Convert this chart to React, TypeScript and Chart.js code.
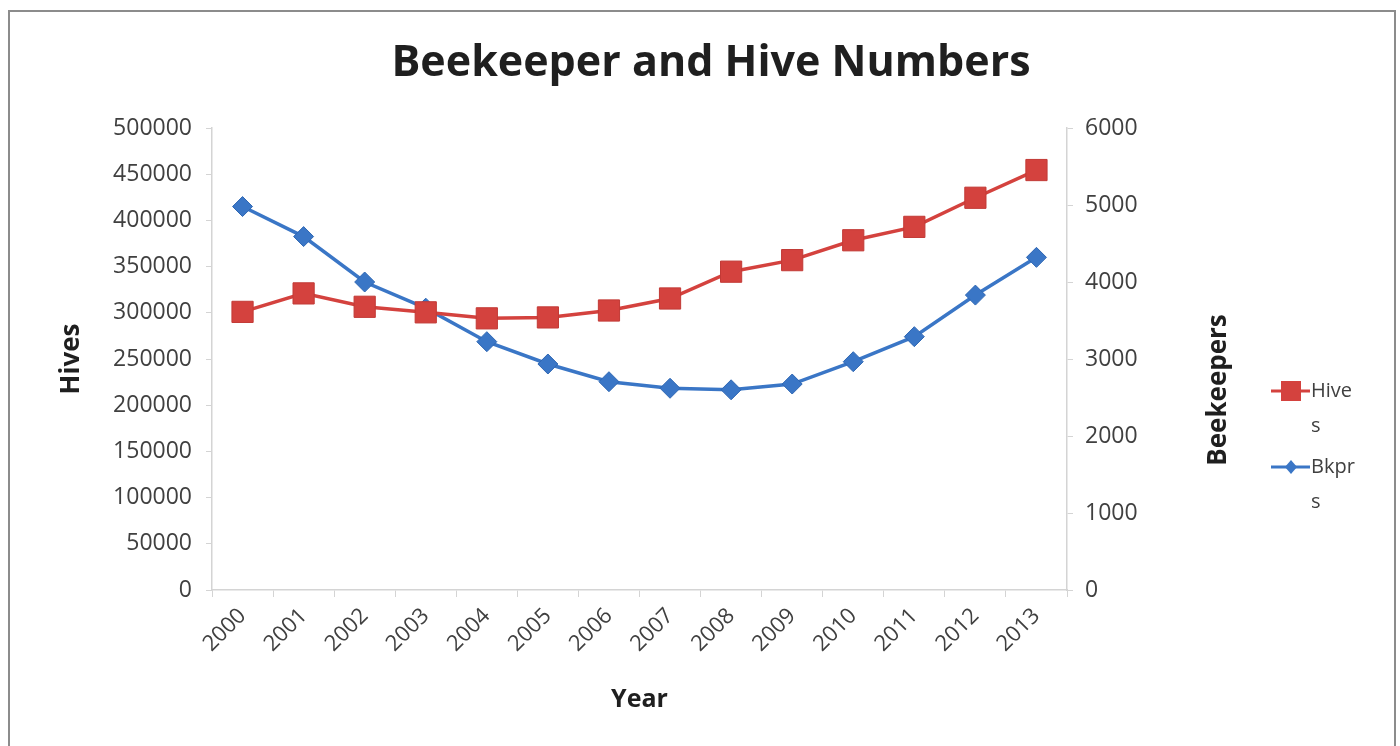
import React, { useEffect, useRef } from 'react';
import { Chart, registerables } from 'chart.js';

Chart.register(...registerables);

const years = ['2000', '2001', '2002', '2003', '2004', '2005', '2006', '2007', '2008', '2009', '2010', '2011', '2012', '2013'];
const hives = [301000, 321000, 306500, 300500, 294000, 295000, 302500, 315500, 344500, 357000, 378500, 393000, 424500, 454500];
const beekeepers = [4980, 4590, 4000, 3660, 3225, 2935, 2705, 2620, 2600, 2675, 2965, 3290, 3830, 4320];
const legendLabels = [['Hive', 's'], ['Bkpr', 's']];
const chartTitle = 'Beekeeper and Hive Numbers';

const FONT = '"Open Sans", sans-serif';
const TEXT = '#404040';
const DARK = '#1f1f1f';
const AXIS = '#d4d4d4';
const RED = '#d4423e';
const BLUE = '#3a76c6';

const PAD_LEFT = 56;
const PLOT_LEFT = 212;
const PLOT_RIGHT = 1067;
const RIGHT_BOX_END = 1232;
const PLOT_TOP = 128;
const PLOT_BOTTOM = 590;
const PAD_BOTTOM = 31;

const extrasPlugin = {
  id: 'extras',
  afterDraw(chart: any) {
    const ctx = chart.ctx;
    // title
    ctx.save();
    ctx.font = `bold 43px ${FONT}`;
    ctx.fillStyle = DARK;
    ctx.textAlign = 'center';
    ctx.textBaseline = 'middle';
    ctx.fillText(chartTitle, 711, 64);
    ctx.restore();

    // Beekeepers axis title
    ctx.save();
    ctx.translate(1219, 390);
    ctx.rotate(-Math.PI / 2);
    ctx.font = `bold 26px ${FONT}`;
    ctx.fillStyle = DARK;
    ctx.textAlign = 'center';
    ctx.textBaseline = 'middle';
    ctx.fillText('Beekeepers', 0, 0);
    ctx.restore();

    // legend
    const rows = [391, 467];
    chart.data.datasets.forEach((ds: any, i: number) => {
      const y = rows[i];
      ctx.save();
      ctx.strokeStyle = ds.borderColor;
      ctx.lineWidth = 3;
      ctx.beginPath();
      ctx.moveTo(1271, y);
      ctx.lineTo(1310, y);
      ctx.stroke();
      ctx.fillStyle = ds.pointBackgroundColor;
      ctx.beginPath();
      if (ds.pointStyle === 'rect') {
        ctx.rect(1281, y - 10, 20, 20);
      } else {
        ctx.moveTo(1291, y - 7);
        ctx.lineTo(1297, y);
        ctx.lineTo(1291, y + 7);
        ctx.lineTo(1285, y);
        ctx.closePath();
      }
      ctx.fill();
      ctx.font = `20px ${FONT}`;
      ctx.fillStyle = TEXT;
      ctx.textAlign = 'left';
      ctx.textBaseline = 'middle';
      ctx.fillText(legendLabels[i][0], 1311, y);
      ctx.fillText(legendLabels[i][1], 1311, y + 35);
      ctx.restore();
    });
  },
};

export default function App() {
  const ref = useRef<HTMLCanvasElement>(null);
  useEffect(() => {
    document.body.style.margin = '0';
    const chart = new Chart(ref.current!, {
      type: 'line',
      data: {
        labels: years,
        datasets: [
          {
            label: 'Hives',
            data: hives,
            yAxisID: 'y',
            borderColor: RED,
            backgroundColor: RED,
            pointBackgroundColor: RED,
            pointBorderColor: '#c23a36',
            pointBorderWidth: 1,
            pointStyle: 'rect',
            pointRadius: 15,
            borderWidth: 3.5,
            tension: 0,
          },
          {
            label: 'Bkprs',
            data: beekeepers,
            yAxisID: 'y1',
            borderColor: BLUE,
            backgroundColor: BLUE,
            pointBackgroundColor: BLUE,
            pointBorderColor: '#2f67b3',
            pointBorderWidth: 1,
            pointStyle: 'rectRot',
            pointRadius: 10,
            borderWidth: 3.5,
            tension: 0,
          },
        ],
      },
      options: {
        animation: false,
        responsive: false,
        layout: { padding: { left: PAD_LEFT, right: 1400 - RIGHT_BOX_END, top: PLOT_TOP, bottom: PAD_BOTTOM } },
        plugins: {
          legend: { display: false },
          tooltip: { enabled: false },
          title: { display: false },
        },
        scales: {
          x: {
            offset: true,
            grid: { display: true, drawOnChartArea: false, offset: true, color: AXIS, tickLength: 7 },
            border: { display: true, color: AXIS, width: 1.5 },
            ticks: { color: TEXT, font: { family: FONT, size: 22 }, minRotation: 45, maxRotation: 45, padding: 6 },
            title: { display: true, text: 'Year', color: DARK, font: { family: FONT, size: 25, weight: 'bold' }, padding: 0 },
            afterFit: (s: any) => { s.height = 746 - PLOT_BOTTOM - PAD_BOTTOM; },
          },
          y: {
            position: 'left',
            min: 0,
            max: 500000,
            grid: { display: true, drawOnChartArea: false, color: AXIS, tickLength: 6 },
            border: { display: true, color: AXIS, width: 1.5 },
            ticks: { stepSize: 50000, color: TEXT, font: { family: FONT, size: 23 }, padding: 14, callback: (v: any) => String(v) },
            title: { display: true, text: 'Hives', color: DARK, font: { family: FONT, size: 26, weight: 'bold' }, padding: 0 },
            afterFit: (s: any) => { s.width = PLOT_LEFT - PAD_LEFT; },
          },
          y1: {
            position: 'right',
            min: 0,
            max: 6000,
            grid: { display: true, drawOnChartArea: false, color: AXIS, tickLength: 6 },
            border: { display: true, color: AXIS, width: 1.5 },
            ticks: { stepSize: 1000, color: TEXT, font: { family: FONT, size: 23 }, padding: 12, callback: (v: any) => String(v) },
            afterFit: (s: any) => { s.width = RIGHT_BOX_END - PLOT_RIGHT; },
          },
        },
      },
      plugins: [extrasPlugin],
    });
    return () => chart.destroy();
  }, []);
  return (
    <div style={{ position: 'relative', width: 1400, height: 746, background: '#fff', overflow: 'hidden' }}>
      <div style={{ position: 'absolute', left: 8, top: 10, width: 1388, height: 760, border: '2px solid #8c8c8c', boxSizing: 'border-box' }} />
      <canvas ref={ref} width={1400} height={746} style={{ position: 'absolute', left: 0, top: 0 }} />
    </div>
  );
}
